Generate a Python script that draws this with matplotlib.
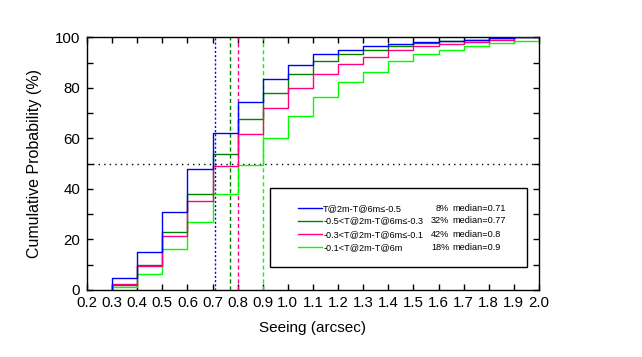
import numpy as np
import matplotlib
matplotlib.use("Agg")
import matplotlib.pyplot as plt
from matplotlib.patches import Rectangle

plt.rcParams['font.family'] = ['Liberation Sans', 'DejaVu Sans']

# Data
bin_edges = [0.3, 0.4, 0.5, 0.6, 0.7, 0.8, 0.9, 1.0, 1.1, 1.2, 1.3, 1.4,
             1.5, 1.6, 1.7, 1.8, 1.9, 2.0]
cum_a = [4.6, 15.0, 31.0, 48.0, 62.3, 74.2, 83.3, 89.2, 93.2, 95.1, 96.7,
         97.5, 98.1, 98.7, 99.1, 99.5, 100.0]
cum_b = [2.0, 10.0, 22.8, 38.1, 54.0, 67.7, 78.1, 85.3, 90.4, 93.2, 95.1,
         96.7, 97.9, 98.7, 99.1, 99.5, 100.0]
cum_c = [2.2, 9.6, 21.2, 35.1, 48.9, 61.8, 72.2, 80.1, 85.6, 89.6, 92.2,
         95.1, 96.7, 97.5, 98.3, 99.1, 100.0]
cum_d = [1.2, 6.5, 16.1, 26.8, 38.1, 49.3, 60.0, 69.0, 76.2, 82.1, 86.4,
         90.4, 93.2, 95.1, 96.7, 97.9, 98.7]
labels = ['T@2m-T@6m\u2264-0.5',
          '-0.5<T@2m-T@6m\u2264-0.3',
          '-0.3<T@2m-T@6m\u2264-0.1',
          '-0.1<T@2m-T@6m']
fractions = ['8%', '32%', '42%', '18%']
medians = [0.71, 0.77, 0.8, 0.9]
median_labels = ['median=0.71', 'median=0.77', 'median=0.8', 'median=0.9']
colors = ['#0000ff', '#008000', '#ff0080', '#00ff00']
x_ticks = [0.2, 0.3, 0.4, 0.5, 0.6, 0.7, 0.8, 0.9, 1.0, 1.1, 1.2, 1.3, 1.4,
           1.5, 1.6, 1.7, 1.8, 1.9, 2.0]
y_ticks = [0, 20, 40, 60, 80, 100]

fig = plt.figure(figsize=(6.42, 3.57), dpi=100)
ax = fig.add_axes([0.1355, 0.1877, 0.704, 0.708])

series = [cum_a, cum_b, cum_c, cum_d]
draw_order = [3, 1, 2, 0]
for i in draw_order:
    vals = series[i]
    xs = [bin_edges[0]] + list(bin_edges)
    ys = [0] + list(vals) + [vals[-1]]
    ax.step(xs, ys, where='post', color=colors[i], lw=1.0, zorder=3)

# median lines
styles = [(0, (1.5, 1.5)), (0, (3, 2)), (0, (3, 2)), (0, (3, 2))]
for m, c, s in zip(medians, colors, styles):
    ax.plot([m, m], [0, 100], color=c, lw=1.0, linestyle=s, zorder=2)

ax.axhline(50, color='black', lw=1.0, linestyle=(0, (1, 3)), zorder=2)

ax.set_xlim(0.2, 2.0)
ax.set_ylim(0, 100)
ax.set_xticks(x_ticks)
ax.set_xticklabels([f'{v:.1f}' for v in x_ticks])
ax.set_yticks(y_ticks)
ax.set_yticks(np.arange(10, 100, 20), minor=True)
ax.tick_params(axis='both', which='both', direction='in', length=4,
               width=1.0, labelsize=10.8, top=True, right=True, pad=4)
ax.tick_params(axis='y', pad=5)
for sp in ax.spines.values():
    sp.set_linewidth(1.0)

ax.set_xlabel('Seeing (arcsec)', fontsize=11, labelpad=8)
ax.set_ylabel('Cumulative Probability (%)', fontsize=11.5, labelpad=9)

# legend box
ax.add_patch(Rectangle((0.405, 0.09), 0.568, 0.312, transform=ax.transAxes,
                       fill=True, facecolor='white', edgecolor='black',
                       lw=1.0, zorder=5))
ys_leg = [0.3233, 0.2742, 0.2204, 0.1690]
for yl, lab, fr, md, c in zip(ys_leg, labels, fractions, median_labels, colors):
    ax.plot([0.4675, 0.5206], [yl, yl], color=c, lw=1.0,
            transform=ax.transAxes, zorder=6)
    ax.text(0.5228, yl, lab, transform=ax.transAxes, fontsize=6.6,
            va='center', ha='left', zorder=6)
    ax.text(0.8015, yl, fr, transform=ax.transAxes, fontsize=6.6,
            va='center', ha='right', zorder=6)
    ax.text(0.809, yl, md, transform=ax.transAxes, fontsize=6.6,
            va='center', ha='left', zorder=6)

fig.savefig('out.png', dpi=100)
